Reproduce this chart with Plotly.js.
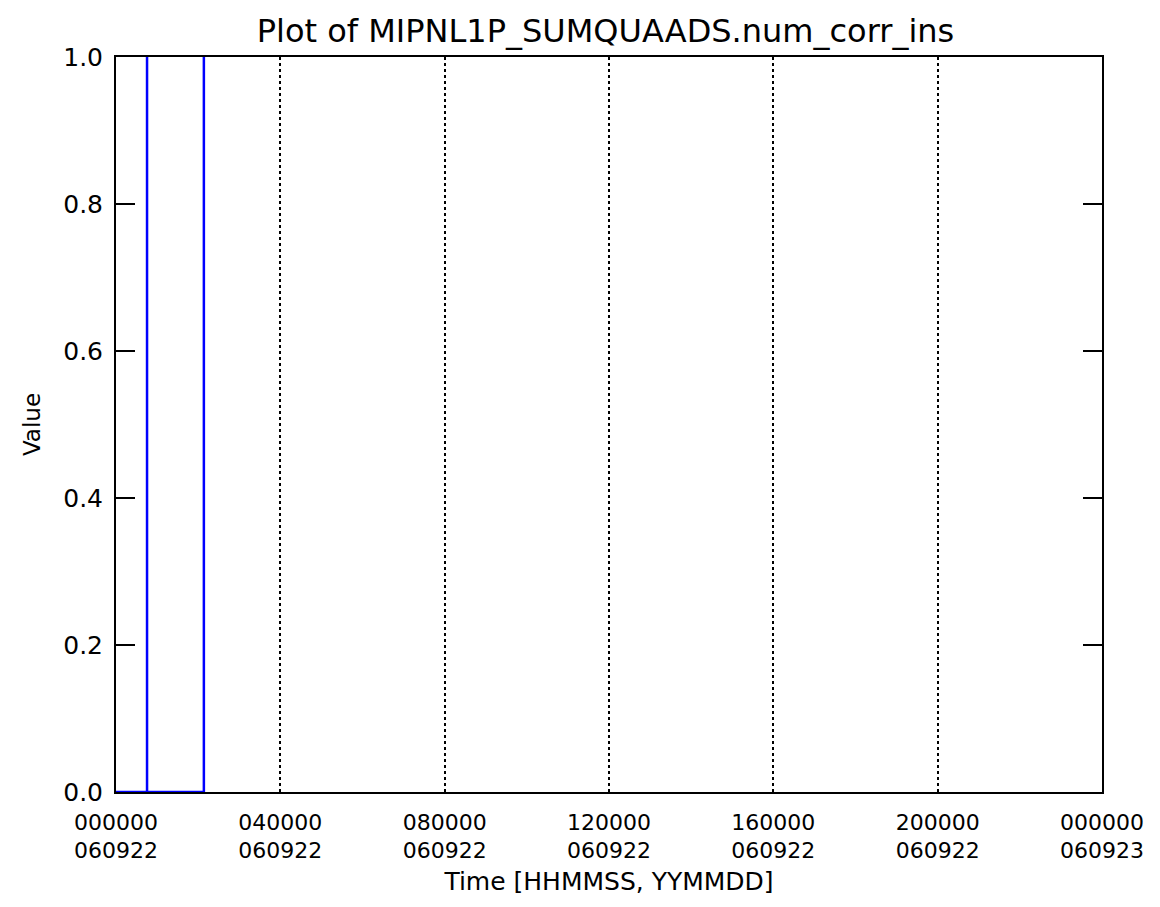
<!DOCTYPE html>
<html>
<head>
<meta charset="utf-8">
<script src="https://cdn.plot.ly/plotly-3.0.1.min.js"></script>
<style>html,body{margin:0;padding:0;background:#fff;}#chart{width:1160px;height:907px;}</style>
</head>
<body>
<div id="chart"></div>
<script>
// Time in seconds since 000000 060922
const timeSec = [0, 2720, 2720, 2720, 7700, 7700];
const values  = [0, 0, 1, 0, 0, 1];
const tickSec = [0, 14400, 28800, 43200, 57600, 72000, 86400];
const tickHHMMSS = ["000000", "040000", "080000", "120000", "160000", "200000", "000000"];
const tickYYMMDD = ["060922", "060922", "060922", "060922", "060922", "060922", "060923"];
const yTickVals = [0, 0.2, 0.4, 0.6, 0.8, 1.0];
const yTickText = ["0.0", "0.2", "0.4", "0.6", "0.8", "1.0"];

const font = "DejaVu Sans, sans-serif";
const trace = {
  x: timeSec, y: values, type: "scatter", mode: "lines", cliponaxis: false,
  line: {color: "#0000ff", width: 2.5}, hoverinfo: "skip"
};
const dateTrace = {
  x: [tickSec[0]], y: [0], xaxis: "x2", yaxis: "y", type: "scatter", mode: "none",
  hoverinfo: "skip", showlegend: false
};
const layout = {
  width: 1160, height: 907,
  margin: {l: 116, r: 58, t: 57, b: 115},
  paper_bgcolor: "#fff", plot_bgcolor: "#fff",
  showlegend: false,
  title: {text: "Plot of MIPNL1P_SUMQUAADS.num_corr_ins", font: {family: font, size: 32, color: "#000"},
          x: 0.522, xanchor: "center", y: 0.966, yanchor: "middle"},
  xaxis: {
    range: [0, 86400], tickvals: tickSec, ticktext: tickHHMMSS,
    showgrid: true, gridcolor: "#000", griddash: "dot", gridwidth: 2,
    ticks: "", showline: true, linecolor: "#000", linewidth: 2, mirror: true,
    zeroline: false, layer: "below traces",
    tickfont: {family: font, size: 22, color: "#000"},
    ticklabelstandoff: 10
  },
  xaxis2: {
    range: [0, 86400], tickvals: tickSec, ticktext: tickYYMMDD,
    overlaying: "x", side: "bottom", anchor: "y",
    showgrid: false, ticks: "", showline: false, zeroline: false,
    tickfont: {family: font, size: 22, color: "#000"},
    ticklabelstandoff: 43,
    title: {text: "Time [HHMMSS, YYMMDD]", font: {family: font, size: 25, color: "#000"}, standoff: 10}
  },
  yaxis: {
    range: [0, 1], tickvals: yTickVals, ticktext: yTickText,
    showgrid: false, zeroline: false, layer: "below traces",
    ticks: "inside", ticklen: 19, tickwidth: 2, tickcolor: "#000",
    showline: true, linecolor: "#000", linewidth: 2, mirror: "ticks",
    tickfont: {family: font, size: 25, color: "#000"},
    ticklabelstandoff: 6,
    title: {text: "Value", font: {family: font, size: 23, color: "#000"}, standoff: 16}
  }
};
Plotly.newPlot("chart", [trace, dateTrace], layout, {displayModeBar: false, staticPlot: true});
</script>
</body>
</html>
